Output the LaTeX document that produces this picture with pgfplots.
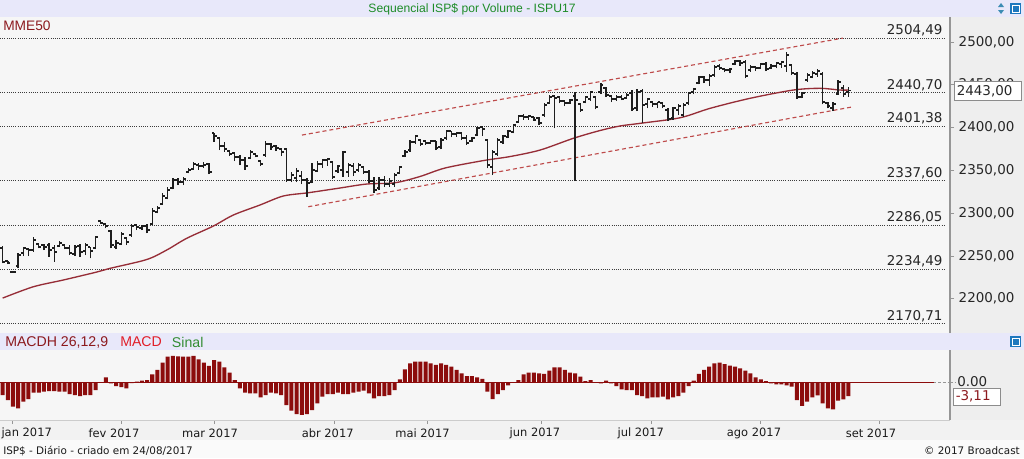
\documentclass[border=0pt]{standalone}
\usepackage{pgfplots}
\pgfplotsset{compat=1.18}
\usepackage{pgfplotstable}
\usepackage{fontspec}
\setmainfont{DejaVu Sans}
\newfontfamily\arialf{Liberation Sans}

\definecolor{bgmain}{RGB}{246,246,246}
\definecolor{bgbar}{RGB}{232,232,250}
\definecolor{bgright}{RGB}{238,238,238}
\definecolor{monthbg}{RGB}{242,242,242}
\definecolor{footbg}{RGB}{250,250,250}
\definecolor{mmecol}{RGB}{150,45,55}
\definecolor{chancol}{RGB}{190,75,75}
\definecolor{histcol}{RGB}{140,12,12}
\definecolor{titlegreen}{RGB}{30,140,40}
\definecolor{darkredtxt}{RGB}{140,25,30}
\definecolor{macdred}{RGB}{225,30,40}
\definecolor{sinalgreen}{RGB}{50,140,50}
\definecolor{gridgray}{RGB}{60,60,60}
\definecolor{axisgray}{RGB}{150,150,150}
\definecolor{iconblue}{RGB}{30,120,190}
\definecolor{iconteal}{RGB}{60,140,180}
\definecolor{barcol}{RGB}{30,30,30}

% trading-day index, open, high, low, close
\pgfplotstableread{
i o h l c
0 2259.2 2261.6 2241.4 2242.9
1 2244.0 2244.4 2240.5 2241.7
2 2231.2 2231.5 2230.4 2231.2
3 2238.2 2253.0 2235.5 2251.1
4 2253.4 2260.8 2249.9 2259.2
5 2258.1 2258.9 2249.9 2256.9
6 2256.9 2271.7 2254.9 2268.6
7 2263.9 2264.7 2258.9 2260.4
8 2262.7 2263.9 2256.9 2260.4
9 2262.7 2264.7 2249.1 2256.9
10 2259.2 2262.7 2243.2 2254.6
11 2261.6 2267.8 2260.8 2265.1
12 2262.7 2262.7 2257.7 2259.2
13 2259.2 2262.7 2251.1 2253.4
14 2252.2 2262.7 2249.9 2260.4
15 2261.6 2263.9 2249.1 2254.6
16 2255.7 2264.7 2251.1 2262.7
17 2260.4 2260.8 2247.2 2255.7
18 2259.2 2273.3 2257.7 2272.1
19 2290.8 2291.1 2287.3 2288.4
20 2287.3 2288.1 2282.2 2284.9
21 2279.1 2280.3 2258.9 2262.7
22 2260.4 2268.6 2257.7 2265.1
23 2263.9 2278.3 2262.7 2275.6
24 2270.9 2271.7 2262.7 2266.3
25 2274.4 2287.3 2272.4 2284.9
26 2286.1 2287.3 2280.3 2283.8
27 2282.6 2286.1 2280.3 2284.9
28 2284.9 2287.3 2276.4 2280.3
29 2287.3 2305.6 2286.1 2302.5
30 2301.3 2308.3 2299.8 2306.0
31 2310.6 2323.1 2309.5 2320.0
32 2317.6 2330.2 2316.1 2327.0
33 2329.3 2340.7 2327.8 2338.7
34 2338.7 2340.7 2332.8 2336.3
35 2336.3 2341.8 2332.8 2339.8
36 2348.0 2352.3 2346.5 2350.4
37 2351.5 2360.0 2350.4 2357.4
38 2356.2 2358.2 2350.4 2355.0
39 2355.0 2359.7 2352.7 2356.2
40 2357.4 2358.5 2345.7 2348.0
41 2393.6 2393.9 2383.4 2390.1
42 2387.7 2388.9 2373.7 2378.4
43 2378.4 2383.1 2371.7 2374.9
44 2372.5 2373.7 2366.7 2369.0
45 2370.2 2371.7 2360.9 2365.5
46 2365.5 2367.9 2356.2 2362.0
47 2362.0 2365.5 2350.4 2355.0
48 2364.4 2373.7 2363.2 2371.4
49 2369.0 2370.2 2365.0 2366.7
50 2360.9 2362.0 2355.0 2357.4
51 2367.9 2384.2 2366.1 2380.7
52 2380.7 2381.9 2374.3 2377.2
53 2378.4 2380.1 2372.5 2376.1
54 2374.9 2375.7 2366.7 2371.4
55 2374.9 2375.7 2336.7 2338.7
56 2338.7 2348.0 2336.3 2344.5
57 2341.0 2352.7 2336.3 2349.2
58 2343.3 2349.8 2334.0 2338.7
59 2338.7 2341.0 2318.8 2335.2
60 2336.3 2358.2 2334.8 2350.4
61 2349.2 2360.9 2348.0 2357.4
62 2357.4 2363.8 2353.3 2362.0
63 2362.0 2364.0 2355.6 2363.2
64 2359.7 2360.9 2339.8 2342.2
65 2349.2 2356.2 2346.8 2355.0
66 2350.4 2372.9 2342.5 2371.4
67 2348.0 2358.2 2342.5 2356.2
68 2355.0 2358.9 2343.3 2348.0
69 2350.4 2358.5 2348.0 2356.2
70 2353.9 2355.0 2345.7 2348.0
71 2348.0 2350.4 2335.2 2337.5
72 2337.5 2342.2 2323.5 2327.0
73 2329.3 2342.2 2327.0 2338.7
74 2338.7 2343.3 2330.5 2334.0
75 2334.0 2341.0 2330.5 2337.5
76 2334.0 2346.8 2330.5 2344.5
77 2346.8 2355.0 2345.7 2353.9
78 2366.7 2373.7 2365.5 2371.4
79 2373.7 2385.4 2371.7 2383.1
80 2383.1 2391.8 2380.7 2390.1
81 2385.4 2386.2 2378.4 2380.7
82 2384.2 2385.4 2379.6 2381.9
83 2381.9 2385.4 2380.7 2384.2
84 2384.2 2384.6 2373.7 2376.1
85 2377.2 2387.4 2374.5 2385.4
86 2387.7 2397.1 2385.4 2395.9
87 2395.9 2396.3 2388.6 2392.4
88 2392.4 2395.1 2389.3 2393.6
89 2393.6 2395.1 2385.4 2387.7
90 2387.7 2391.2 2379.6 2381.9
91 2384.2 2389.3 2383.4 2387.7
92 2391.2 2400.9 2390.1 2399.4
93 2400.6 2401.8 2390.1 2398.2
94 2385.4 2386.2 2352.3 2356.2
95 2353.9 2373.7 2344.5 2371.4
96 2369.0 2387.4 2366.7 2385.4
97 2383.1 2391.2 2380.7 2390.1
98 2388.9 2397.1 2387.4 2395.9
99 2394.7 2404.1 2393.2 2402.9
100 2406.4 2414.6 2405.6 2413.4
101 2413.4 2415.8 2408.8 2412.3
102 2412.3 2414.6 2408.8 2413.4
103 2412.3 2412.6 2407.9 2408.8
104 2411.1 2412.6 2402.9 2405.3
105 2414.6 2428.3 2412.6 2426.3
106 2428.6 2438.0 2427.5 2435.6
107 2436.8 2438.0 2399.1 2434.5
108 2435.6 2436.0 2428.3 2431.0
109 2431.0 2432.1 2425.1 2428.6
110 2428.6 2432.9 2427.5 2432.1
111 2436.8 2441.8 2337.5 2432.1
112 2427.5 2428.3 2418.5 2420.4
113 2429.8 2436.8 2428.3 2435.6
114 2433.3 2443.0 2431.3 2441.5
115 2435.6 2436.0 2421.3 2423.9
116 2441.5 2452.3 2439.1 2449.6
117 2446.1 2447.3 2435.6 2438.0
118 2436.8 2438.0 2429.8 2433.3
119 2433.3 2438.0 2431.0 2435.6
120 2435.6 2438.0 2432.1 2433.3
121 2434.5 2440.3 2433.3 2438.0
122 2440.3 2443.8 2419.3 2421.6
123 2422.8 2445.0 2419.3 2441.5
124 2442.6 2445.0 2404.9 2426.3
125 2427.5 2434.8 2422.4 2433.3
126 2429.8 2431.0 2424.3 2427.5
127 2427.5 2430.1 2422.4 2429.8
128 2428.6 2429.4 2422.4 2425.1
129 2420.4 2422.4 2407.6 2409.9
130 2411.1 2424.3 2408.8 2422.8
131 2420.4 2427.1 2414.6 2425.1
132 2414.6 2428.3 2412.6 2426.3
133 2428.6 2441.8 2426.3 2440.3
134 2441.5 2446.5 2438.8 2445.0
135 2452.0 2460.5 2450.5 2459.0
136 2459.0 2460.5 2451.6 2455.5
137 2455.5 2462.1 2448.8 2460.2
138 2461.3 2473.0 2459.3 2470.7
139 2471.8 2473.8 2467.2 2469.5
140 2468.3 2469.9 2464.5 2467.2
141 2467.2 2469.2 2463.3 2468.3
142 2474.2 2478.9 2473.0 2477.7
143 2477.7 2478.9 2472.2 2475.3
144 2476.5 2478.9 2457.5 2460.2
145 2467.2 2473.0 2465.2 2470.7
146 2470.7 2472.2 2466.0 2469.5
147 2469.5 2475.0 2468.3 2474.2
148 2474.2 2476.9 2466.0 2468.3
149 2469.5 2473.8 2468.3 2471.8
150 2471.8 2476.2 2469.2 2475.3
151 2474.2 2476.9 2469.9 2476.5
152 2471.8 2488.5 2465.2 2484.7
153 2473.0 2473.8 2461.3 2463.7
154 2462.5 2464.5 2433.3 2435.6
155 2435.6 2441.8 2434.1 2440.3
156 2455.5 2463.3 2453.5 2461.3
157 2459.0 2466.0 2457.5 2463.7
158 2462.5 2468.3 2459.3 2466.0
159 2462.5 2464.5 2427.1 2429.8
160 2428.6 2430.1 2422.4 2425.1
161 2422.8 2429.4 2419.3 2427.5
162 2439.1 2455.5 2438.0 2453.2
163 2446.1 2449.6 2436.0 2439.1
164 2441.5 2447.7 2436.0 2443.0
}\ohlc

% MME50
\pgfplotstableread{
i v
0 2200.8
5.93 2214.0
11.75 2221.9
18.23 2231.2
20.8 2235.5
27.92 2245.8
31.8 2256.9
35.68 2270.6
40.84 2284.9
44.72 2297.8
49.89 2309.5
54.41 2320.0
59.2 2323.8
65.02 2329.0
70.58 2334.0
76.07 2335.5
80.92 2342.8
85.77 2352.7
93.2 2361.4
98.38 2366.1
104.2 2373.7
110.65 2387.4
115.82 2396.5
119.7 2401.8
123.6 2404.9
131.34 2411.4
137.15 2422.4
144.9 2434.1
153.3 2443.8
158.48 2445.8
162.36 2443.8
164 2443.8
}\mme

% MACD histogram
\pgfplotstableread{
i m
0 -2.89
1 -4.00
2 -5.49
3 -5.84
4 -4.38
5 -3.78
6 -2.38
7 -2.38
8 -2.16
9 -2.00
10 -2.00
11 -2.16
12 -2.16
13 -2.67
14 -2.89
15 -3.11
16 -2.89
17 -2.89
18 -1.78
19 0.00
20 1.04
21 -0.30
22 -0.89
23 -1.11
24 -1.40
25 -0.22
26 0.07
27 0.29
28 0.44
29 1.71
30 2.67
31 4.29
32 5.62
33 5.78
34 5.71
35 5.62
36 5.62
37 5.78
38 5.04
39 4.29
40 3.56
41 4.89
42 4.51
43 3.27
44 2.07
45 0.44
46 -1.40
47 -2.38
48 -2.51
49 -2.51
50 -3.40
51 -2.89
52 -2.38
53 -2.51
54 -2.89
55 -5.11
56 -6.38
57 -7.11
58 -7.33
59 -7.11
60 -6.22
61 -4.73
62 -3.27
63 -2.67
64 -2.67
65 -2.38
66 -2.67
67 -2.67
68 -2.38
69 -2.16
70 -1.93
71 -2.51
72 -3.62
73 -3.11
74 -3.11
75 -2.89
76 -1.78
77 0.60
78 2.82
79 4.16
80 4.51
81 4.51
82 4.51
83 4.16
84 3.78
85 4.16
86 3.78
87 3.40
88 2.67
89 1.93
90 1.33
91 1.33
92 1.04
93 0.67
94 -2.16
95 -3.78
96 -2.67
97 -1.78
98 -0.73
99 -0.16
100 0.44
101 1.71
102 2.07
103 2.07
104 1.93
105 1.78
106 2.51
107 3.27
108 3.27
109 2.67
110 2.07
111 1.93
112 1.18
113 0.22
114 0.44
115 0.00
116 -0.29
117 0.29
118 -0.29
119 -0.89
120 -1.62
121 -1.78
122 -1.78
123 -2.89
124 -3.11
125 -3.62
126 -3.40
127 -3.40
128 -3.27
129 -3.84
130 -3.40
131 -3.11
132 -2.38
133 -0.89
134 0.29
135 1.78
136 2.67
137 3.40
138 4.16
139 4.29
140 4.00
141 3.62
142 3.40
143 3.04
144 2.51
145 1.93
146 1.04
147 0.60
148 0.22
149 -0.29
150 -0.51
151 -0.51
152 -0.73
153 -1.04
154 -4.00
155 -5.33
156 -4.38
157 -3.40
158 -2.96
159 -4.73
160 -5.84
161 -6.07
162 -4.16
163 -3.84
164 -3.11
}\macd

\begin{document}
\begin{tikzpicture}
\path[use as bounding box] (0pt,0pt) rectangle (768pt,-343.5pt);
\begin{scope}[x=0.75pt,y=-0.75pt]
  \fill[footbg] (0,0) rectangle (1024,458);
  \fill[bgbar] (0,0) rectangle (1024,17);
  \fill[bgmain] (0,17) rectangle (950,333);
  \fill[bgright] (950,17) rectangle (1024,333);
  \fill[bgbar] (0,333) rectangle (1024,350);
  \fill[bgmain] (0,350) rectangle (950,420);
  \fill[bgright] (950,350) rectangle (1024,420);
  \fill[monthbg] (0,420) rectangle (1024,440);
  % title
  \node[inner sep=0, text=titlegreen, font=\arialf\fontsize{9.1}{11}\selectfont] at (472,9) {Sequencial ISP\$ por Volume - ISPU17};
  % icons
  \fill[iconteal] (998,7) -- (1004,7) -- (1001,3) -- cycle;
  \fill[iconteal] (998,10) -- (1004,10) -- (1001,14) -- cycle;
  \fill[iconblue] (1010,3) rectangle (1021,14);
  \draw[white, line width=0.5pt] (1012,5) rectangle (1019,12);
  \fill[iconblue] (1010,336) rectangle (1021,347);
  \draw[white, line width=0.5pt] (1012,338) rectangle (1019,345);
  % panel labels
  \node[anchor=west, inner sep=0, text=darkredtxt, font=\arialf\fontsize{10.3}{12}\selectfont] at (3,26) {MME50};
  \node[anchor=west, inner sep=0, text=darkredtxt, font=\arialf\fontsize{10.6}{12}\selectfont] at (5,342) {MACDH 26,12,9};
  \node[anchor=west, inner sep=0, text=macdred, font=\arialf\fontsize{10.6}{12}\selectfont] at (120,342) {MACD};
  \node[anchor=west, inner sep=0, text=sinalgreen, font=\arialf\fontsize{10.6}{12}\selectfont] at (171.7,342) {Sinal};
\end{scope}

% ---------------- price panel
\begin{axis}[
  at={(0pt,-12.75pt)}, anchor=north west,
  scale only axis, width=712.5pt, height=237pt,
  xmin=-0.52, xmax=183.69, ymin=2160, ymax=2529.1,
  axis x line=none, axis y line*=right,
  y axis line style={draw=axisgray, line width=0.9pt},
  ytick={2200,2250,2300,2350,2400,2450,2500},
  yticklabels={{2200,00},{2250,00},{2300,00},{2350,00},{2400,00},{2450,00},{2500,00}},
  yticklabel style={font=\fontsize{10.1}{12}\selectfont, text=black!85},
  tick align=outside, major tick length=3pt,
  ytick style={draw=axisgray, line width=0.6pt},
]
% dotted levels
\foreach \lv in {2504.49,2440.70,2401.38,2337.60,2286.05,2234.49,2170.71}{
  \edef\tmp{\noexpand\addplot[gridgray, line width=0.75pt, dash pattern=on 0.75pt off 0.9pt, forget plot] coordinates {(-0.52,\lv) (182.7,\lv)};}
  \tmp
}
\node[anchor=base east, inner sep=0, yshift=2.6pt, font=\fontsize{10.1}{12}\selectfont, text=black!85] at (axis cs:182.3,2504.49) {2504,49};
\node[anchor=base east, inner sep=0, yshift=2.6pt, font=\fontsize{10.1}{12}\selectfont, text=black!85] at (axis cs:182.3,2440.70) {2440,70};
\node[anchor=base east, inner sep=0, yshift=2.6pt, font=\fontsize{10.1}{12}\selectfont, text=black!85] at (axis cs:182.3,2401.38) {2401,38};
\node[anchor=base east, inner sep=0, yshift=2.6pt, font=\fontsize{10.1}{12}\selectfont, text=black!85] at (axis cs:182.3,2337.60) {2337,60};
\node[anchor=base east, inner sep=0, yshift=2.6pt, font=\fontsize{10.1}{12}\selectfont, text=black!85] at (axis cs:182.3,2286.05) {2286,05};
\node[anchor=base east, inner sep=0, yshift=2.6pt, font=\fontsize{10.1}{12}\selectfont, text=black!85] at (axis cs:182.3,2234.49) {2234,49};
\node[anchor=base east, inner sep=0, yshift=2.6pt, font=\fontsize{10.1}{12}\selectfont, text=black!85] at (axis cs:182.3,2170.71) {2170,71};
% channel
\addplot[chancol, line width=0.85pt, dash pattern=on 3pt off 2.2pt] coordinates {(58.04,2391.2) (162.94,2504.5)};
\addplot[chancol, line width=0.85pt, dash pattern=on 3pt off 2.2pt] coordinates {(59.26,2307.5) (164.94,2424.3)};
% MME50
\addplot[mmecol, line width=1pt, smooth] table[x=i, y=v] {\mme};
% OHLC bars: high-low, open tick (left), close tick (right)
\addplot[draw=none, mark=none, error bars/.cd, y dir=plus, y explicit, error mark=none,
  error bar style={draw=barcol, line width=1pt}]
  table[x=i, y=l, y error plus expr=\thisrow{h}-\thisrow{l}] {\ohlc};
\addplot[draw=none, mark=none, error bars/.cd, x dir=minus, x fixed=0.5, error mark=none,
  error bar style={draw=barcol, line width=1pt}]
  table[x=i, y=o] {\ohlc};
\addplot[draw=none, mark=none, error bars/.cd, x dir=plus, x fixed=0.5, error mark=none,
  error bar style={draw=barcol, line width=1pt}]
  table[x=i, y=c] {\ohlc};
\end{axis}

% ---------------- MACD panel
\begin{axis}[
  at={(0pt,-262.5pt)}, anchor=north west,
  scale only axis, width=712.5pt, height=52.5pt,
  xmin=-0.52, xmax=183.69, ymin=-8.444, ymax=7.111,
  axis x line*=bottom, axis y line*=right,
  x axis line style={draw=black!20, line width=0.6pt},
  y axis line style={draw=axisgray, line width=0.9pt},
  ytick=\empty,
  xtick={1.86,23.08,41.03,64.30,82.41,104.54,125.75,146.83,170.04},
  xticklabel=\empty,
  tick align=outside, major tick length=3pt,
  xtick style={draw=axisgray, line width=0.6pt},
]
\addplot[ybar, bar width=0.78, bar shift=0pt, fill=histcol, draw=none] table[x=i, y=m] {\macd};
\addplot[histcol, line width=0.75pt] coordinates {(-0.52,0) (180.5,0)};
\addplot[axisgray, line width=0.6pt, dash pattern=on 2pt off 1.5pt] coordinates {(180.5,0) (183.69,0)};
\end{axis}

\begin{scope}[x=0.75pt,y=-0.75pt]
  % last price box
  \fill[white] (954,81.7) rectangle (1021.5,100);
  \draw[black!45, line width=0.6pt] (954,81.7) rectangle (1021.5,100);
  \node[anchor=west, inner sep=0, font=\fontsize{10.1}{12}\selectfont, text=black!85] at (956.5,91) {2443,00};
  % MACD labels
  \draw[axisgray, line width=0.6pt, dash pattern=on 2pt off 1.5pt] (950,382) -- (956,382);
  \node[anchor=west, inner sep=0, font=\fontsize{10.1}{12}\selectfont, text=black!85] at (957,381.5) {0.00};
  \fill[white] (953.3,388.3) rectangle (1000,405);
  \draw[black!45, line width=0.6pt] (953.3,388.3) rectangle (1000,405);
  \node[anchor=west, inner sep=0, font=\fontsize{10.1}{12}\selectfont, text=darkredtxt] at (955.5,396.7) {-3,11};
  % month labels
  \foreach \xx/\lab in {26.7/jan 2017, 114/fev 2017, 210/mar 2017, 327.7/abr 2017, 422.5/mai 2017, 535/jun 2017, 640.8/jul 2017, 754/ago 2017, 871/set 2017}{
    \node[inner sep=0, font=\fontsize{8.6}{10}\selectfont, text=black!90] at (\xx,433) {\lab};
  }
  % footer
  \node[anchor=west, inner sep=0, font=\fontsize{7.8}{9}\selectfont, text=black!90] at (3,451) {ISP\$ - Diário - criado em 24/08/2017};
  \node[anchor=east, inner sep=0, font=\fontsize{7.8}{9}\selectfont, text=black!90] at (1020,451) {© 2017 Broadcast};
\end{scope}
\end{tikzpicture}
\end{document}
